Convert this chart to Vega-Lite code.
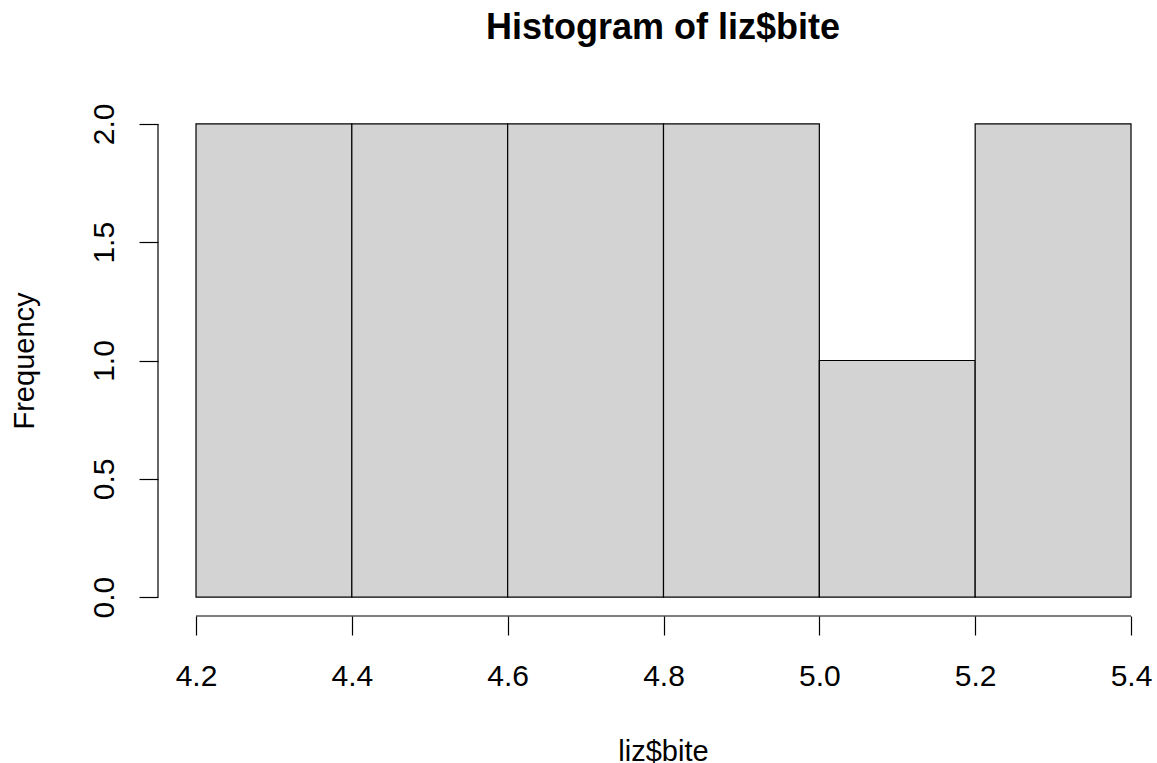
{
  "$schema": "https://vega.github.io/schema/vega-lite/v6.json",
  "autosize": {"type": "none"},
  "padding": {"left": 158, "top": 105, "right": 0, "bottom": 147},
  "width": 999,
  "height": 511,
  "background": "white",
  "config": {"view": {"stroke": null}, "font": "Liberation Sans"},
  "title": {
    "text": "Histogram of liz$bite",
    "fontSize": 36,
    "fontWeight": "bold",
    "font": "Liberation Sans",
    "color": "black",
    "anchor": "middle",
    "frame": "group",
    "dx": 5.5,
    "baseline": "alphabetic",
    "offset": 28
  },
  "datasets": {
    "bins": [
      {"bin_start": 4.2, "bin_end": 4.4, "frequency": 2},
      {"bin_start": 4.4, "bin_end": 4.6, "frequency": 2},
      {"bin_start": 4.6, "bin_end": 4.8, "frequency": 2},
      {"bin_start": 4.8, "bin_end": 5.0, "frequency": 2},
      {"bin_start": 5.0, "bin_end": 5.2, "frequency": 1},
      {"bin_start": 5.2, "bin_end": 5.4, "frequency": 2}
    ],
    "axisLines": [
      {"x": 4.2, "x2": 5.4, "y": -0.08, "y2": -0.08},
      {"x": 4.15123, "x2": 4.15123, "y": 0, "y2": 2}
    ]
  },
  "layer": [
    {
      "data": {"name": "bins"},
      "mark": {"type": "bar", "fill": "#D3D3D3", "stroke": "black", "strokeWidth": 1.2},
      "encoding": {
        "x": {
          "field": "bin_start",
          "type": "quantitative",
          "title": "liz$bite",
          "scale": {"domain": [4.15123, 5.43336], "nice": false, "zero": false},
          "axis": {
            "values": [4.2, 4.4, 4.6, 4.8, 5.0, 5.2, 5.4],
            "format": ".1f",
            "domain": false,
            "grid": false,
            "tickSize": 19,
            "tickColor": "black",
            "tickWidth": 1.2,
            "labelFontSize": 30,
            "labelColor": "black",
            "labelFont": "Liberation Sans",
            "labelPadding": 26,
            "labelBaseline": "top",
            "labelFlush": false,
            "labelOverlap": false,
            "titleFontSize": 29,
            "titleFont": "Liberation Sans",
            "titleFontWeight": "normal",
            "titleColor": "black",
            "titleX": 505,
            "titleY": 144,
            "titleBaseline": "alphabetic",
            "titleAlign": "center"
          }
        },
        "x2": {"field": "bin_end"},
        "y": {
          "field": "frequency",
          "type": "quantitative",
          "title": "Frequency",
          "scale": {"domain": [-0.08, 2.08], "nice": false, "zero": false},
          "axis": {
            "values": [0, 0.5, 1, 1.5, 2],
            "format": ".1f",
            "domain": false,
            "grid": false,
            "tickSize": 19,
            "tickColor": "black",
            "tickWidth": 1.2,
            "labelFontSize": 30,
            "labelColor": "black",
            "labelFont": "Liberation Sans",
            "labelAngle": 270,
            "labelAlign": "center",
            "labelBaseline": "alphabetic",
            "labelPadding": 26,
            "labelOverlap": false,
            "labelFlush": false,
            "titleFontSize": 29,
            "titleFont": "Liberation Sans",
            "titleFontWeight": "normal",
            "titleColor": "black",
            "titleAngle": 270,
            "titleX": -124.7,
            "titleY": 255.5,
            "titleBaseline": "alphabetic",
            "titleAlign": "center"
          }
        },
        "y2": {"datum": 0}
      }
    },
    {
      "data": {"name": "axisLines"},
      "mark": {"type": "rule", "color": "black", "strokeWidth": 1.2},
      "encoding": {
        "x": {"field": "x", "type": "quantitative", "title": "liz$bite"},
        "x2": {"field": "x2"},
        "y": {"field": "y", "type": "quantitative", "title": "Frequency"},
        "y2": {"field": "y2"}
      }
    }
  ]
}
